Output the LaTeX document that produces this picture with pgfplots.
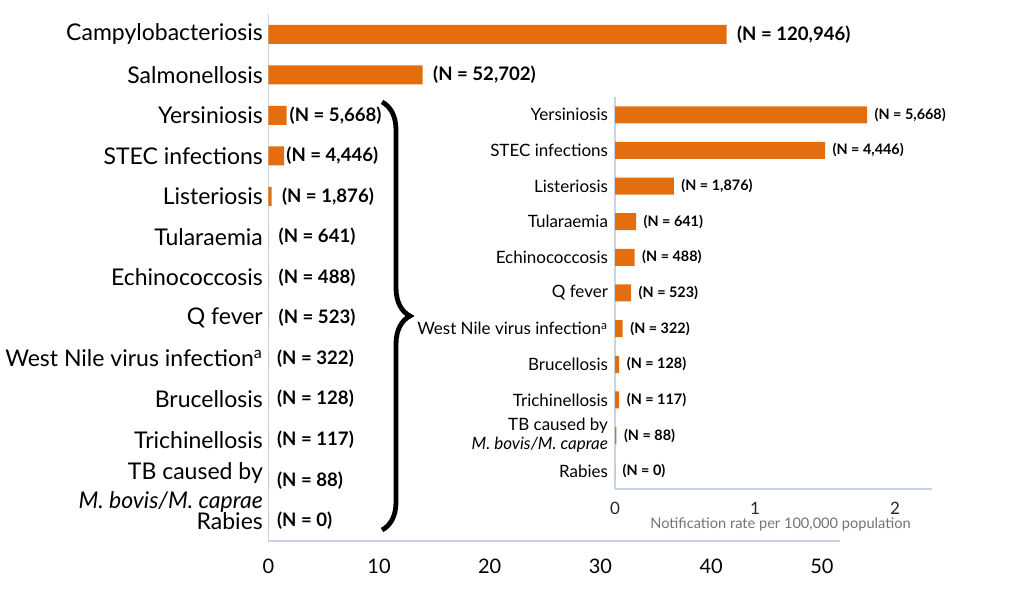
\documentclass[border=0pt]{standalone}
\usepackage{fontspec}
\setmainfont{Lato}
\usepackage{pgfplots}
\usepackage{pgfplotstable}
\pgfplotsset{compat=1.18}
\usetikzlibrary{decorations.pathreplacing}
\definecolor{barorange}{RGB}{228,110,14}
\definecolor{axisgrey}{RGB}{200,212,228}
\definecolor{labgrey}{RGB}{115,115,115}

\pgfplotstableread[col sep=semicolon, row sep=\\]{
y;rate;lab;shift\\
12;41.4;(N = 120,946);5\\
11;13.95;(N = 52,702);5\\
10;1.66;(N = 5,668);1.3\\
9;1.42;(N = 4,446);1\\
8;0.30;(N = 1,876);5\\
7;0;(N = 641);5\\
6;0;(N = 488);5\\
5;0;(N = 523);5\\
4;0;(N = 322);4.2\\
3;0;(N = 128);4.2\\
2;0;(N = 117);4.2\\
1;0;(N = 88);4.2\\
0;0;(N = 0);4.2\\
}\maintable

\pgfplotstableread[col sep=semicolon, row sep=\\]{
y;rate;lab\\
10;1.80;(N = 5,668)\\
9;1.50;(N = 4,446)\\
8;0.42;(N = 1,876)\\
7;0.15;(N = 641)\\
6;0.14;(N = 488)\\
5;0.115;(N = 523)\\
4;0.055;(N = 322)\\
3;0.03;(N = 128)\\
2;0.03;(N = 117)\\
1;0.01;(N = 88)\\
0;0;(N = 0)\\
}\insettable

\begin{document}
\begin{tikzpicture}
\useasboundingbox (0,0) rectangle (507.5pt,294pt);
% main axis
\begin{axis}[
  at={(134.15pt,23.5pt)}, anchor=south west,
  scale only axis, width=285.85pt, height=263.5pt,
  xmin=0, xmax=51.64, ymin=-0.5, ymax=12.5,
  xbar, bar width=9.5pt,
  separate axis lines,
  axis x line*=bottom, axis y line*=left,
  axis line style={-, draw=axisgrey, line width=0.6pt},
  xtick={0,10,20,30,40,50}, ytick={0,...,12},
  major tick length=0pt,
  yticklabels={Rabies,{\begin{tabular}{@{}r@{}}\rule{0pt}{18pt}TB caused by\\[-0.2pt]\textit{M. bovis/M. caprae}\end{tabular}},Trichinellosis,Brucellosis,{West Nile virus infection\textsuperscript{a}},Q fever,Echinococcosis,Tularaemia,Listeriosis,STEC infections,Yersiniosis,Salmonellosis,Campylobacteriosis},
  yticklabel style={align=right, font=\fontsize{11.5}{14.5}\selectfont, xshift=0.8pt},
  xticklabel style={font=\fontsize{10}{12}\selectfont, yshift=-5.5pt},
  /pgf/number format/assume math mode=true,
  clip=false,
]
\addplot[draw=none, fill=barorange,
  nodes near coords, nodes near coords align=horizontal,
  point meta=explicit symbolic,
  visualization depends on={\thisrow{shift} \as \myshift},
  every node near coord/.append style={font=\fontsize{9.3}{11}\selectfont\bfseries, inner sep=0pt, anchor=west, xshift=\myshift pt, text=black}
] table[x=rate, y=y, meta=lab] {\maintable};
\end{axis}
% inset axis
\begin{axis}[
  at={(307.5pt,49.5pt)}, anchor=south west,
  scale only axis, width=158.5pt, height=196pt,
  xmin=0, xmax=2.264, ymin=-0.5, ymax=10.5,
  xbar, bar width=8.5pt,
  separate axis lines,
  axis x line*=bottom, axis y line*=left,
  axis line style={-, draw=axisgrey, line width=0.6pt},
  xtick={0,1,2}, ytick={0,...,10},
  major tick length=0pt,
  yticklabels={Rabies,{TB caused by\\\textit{M. bovis/M. caprae}},Trichinellosis,Brucellosis,{West Nile virus infection\textsuperscript{a}},Q fever,Echinococcosis,Tularaemia,Listeriosis,STEC infections,Yersiniosis},
  yticklabel style={align=right, font=\fontsize{8.5}{9.5}\selectfont},
  xticklabel style={font=\fontsize{8.5}{10}\selectfont, yshift=-3pt, text=black!85},
  xlabel={Notification rate per 100,000 population},
  xlabel style={font=\fontsize{7.3}{8}\selectfont, text=labgrey, yshift=5pt, xshift=3.5pt},
  /pgf/number format/assume math mode=true,
  clip=false,
]
\addplot[draw=none, fill=barorange,
  nodes near coords, nodes near coords align=horizontal,
  point meta=explicit symbolic,
  every node near coord/.append style={font=\fontsize{7.2}{9}\selectfont\bfseries, inner sep=0pt, anchor=west, xshift=3.6pt, text=black}
] table[x=rate, y=y, meta=lab] {\insettable};
\end{axis}
% brace
\draw[line width=2.4pt, decorate, decoration={brace, amplitude=14pt}] (191pt,243pt) -- (191pt,29pt);
\end{tikzpicture}
\end{document}
